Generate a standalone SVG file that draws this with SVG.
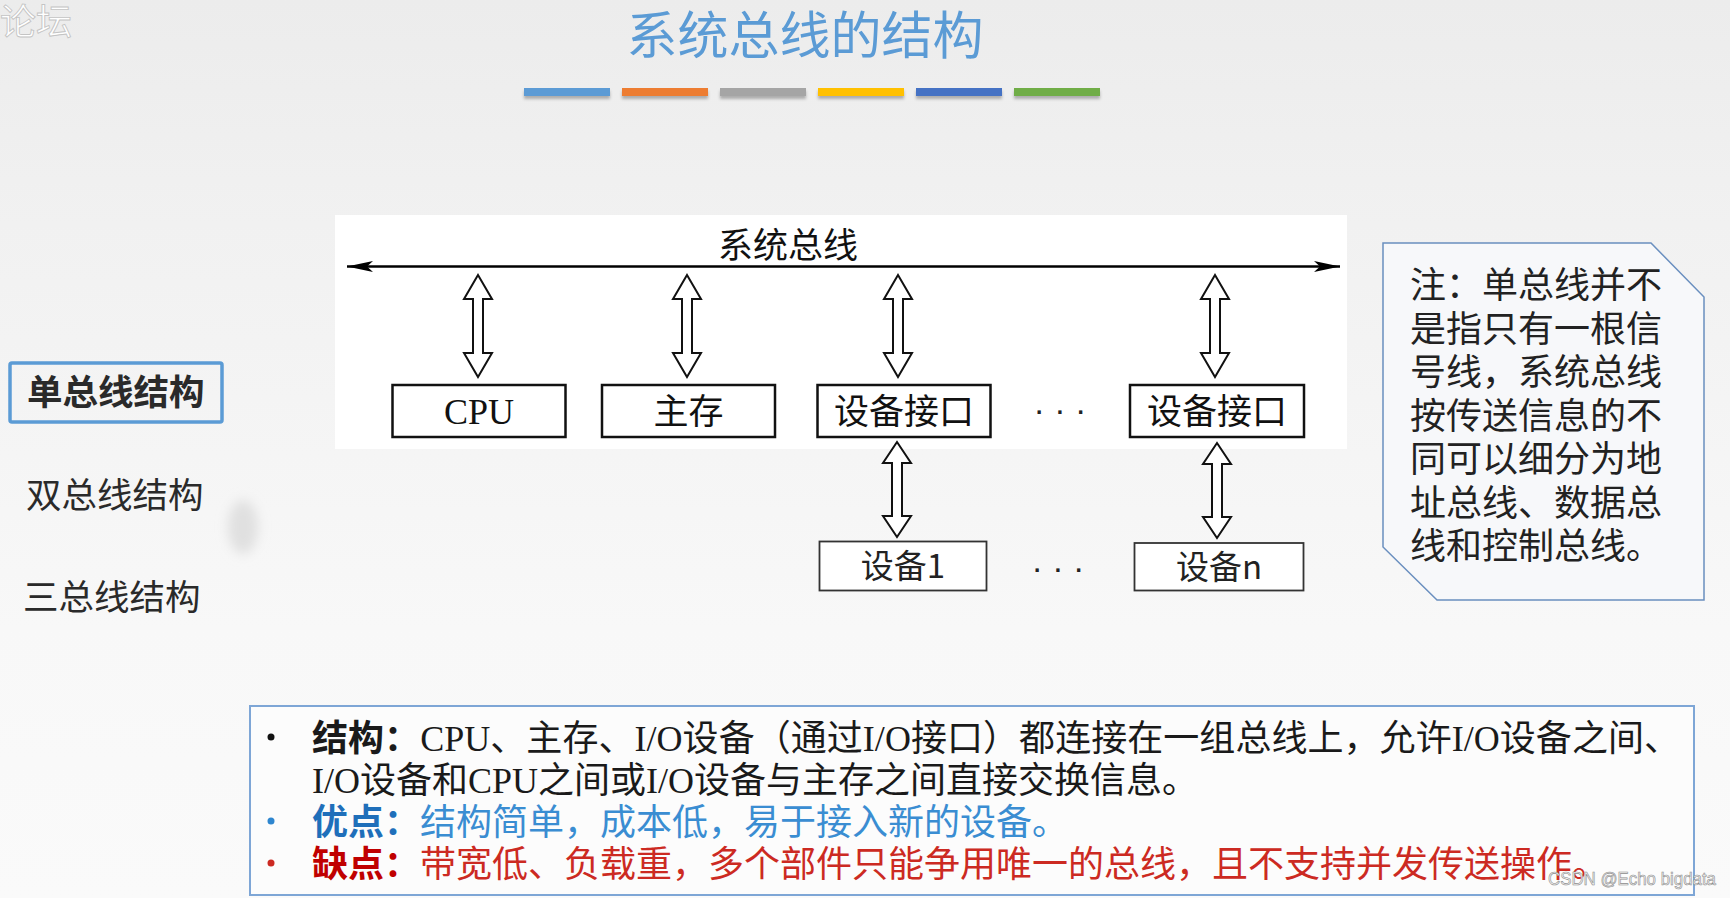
<svg xmlns="http://www.w3.org/2000/svg" width="1730" height="898" viewBox="0 0 1730 898">
<defs>
<linearGradient id="bg" x1="0" y1="0" x2="0" y2="1">
<stop offset="0" stop-color="#ececec"/>
<stop offset="0.25" stop-color="#f1f1f1"/>
<stop offset="0.7" stop-color="#f8f8f8"/>
<stop offset="1" stop-color="#fafafa"/>
</linearGradient>
<filter id="sh" x="-10%" y="-50%" width="120%" height="250%">
<feDropShadow dx="0" dy="3" stdDeviation="1.5" flood-color="#000" flood-opacity="0.28"/>
</filter>
<filter id="blur" x="-100%" y="-100%" width="300%" height="300%">
<feGaussianBlur stdDeviation="6"/>
</filter>
<marker id="ah" markerUnits="userSpaceOnUse" markerWidth="28" markerHeight="12" refX="26" refY="6" orient="auto-start-reverse">
<path d="M0,0.5 L26,6 L0,11.5 L6,6 Z" fill="#000"/>
</marker>
<style>
.cjk{font-family:"Noto Sans CJK SC","Noto Sans",sans-serif;}
.lat{font-family:"Liberation Serif","Times New Roman",serif;}
.box{fill:#fff;stroke:#111;stroke-width:2.5;}
.box2{fill:#fff;stroke:#333;stroke-width:1.8;}
.lbl{font-family:"Noto Sans CJK SC",sans-serif;font-size:35px;fill:#111;text-anchor:middle;}
.lbl2{font-family:"Noto Sans CJK SC",sans-serif;font-size:33px;fill:#222;text-anchor:middle;}
.harrow{fill:#fff;stroke:#111;stroke-width:2;stroke-linejoin:miter;}
.dots{font-family:"Liberation Sans",sans-serif;font-size:34px;fill:#222;text-anchor:middle;}
.menu{font-family:"Noto Sans CJK SC",sans-serif;font-size:35.5px;fill:#2a2a2a;}
.note{font-family:"Noto Sans CJK SC",sans-serif;font-size:36px;fill:#222;}
.sum{font-family:"Noto Sans CJK SC",sans-serif;font-size:36px;fill:#1a1a1a;}
.b{font-weight:bold;}
</style>
</defs>

<rect x="0" y="0" width="1730" height="898" fill="url(#bg)"/>

<g id="watermark-top">
<text x="0" y="35" class="cjk" font-size="36" fill="#ffffff" stroke="#c4c4c4" stroke-width="0.9">论坛</text>
</g>

<g id="title">
<text x="805" y="54" class="cjk" font-size="51" fill="#5b9bd5" text-anchor="middle">系统总线的结构</text>
</g>

<g id="colorbars" filter="url(#sh)">
<rect x="524" y="88" width="86" height="8" fill="#5b9bd5"/>
<rect x="622" y="88" width="86" height="8" fill="#ed7d31"/>
<rect x="720" y="88" width="86" height="8" fill="#a5a5a5"/>
<rect x="818" y="88" width="86" height="8" fill="#ffc000"/>
<rect x="916" y="88" width="86" height="8" fill="#4472c4"/>
<rect x="1014" y="88" width="86" height="8" fill="#70ad47"/>
</g>

<g id="menu">
<rect x="10" y="363" width="212" height="59" rx="2" fill="none" stroke="#5b9bd5" stroke-width="3.5"/>
<text x="27" y="405" class="menu b" fill="#111">单总线结构</text>
<text x="26" y="508" class="menu">双总线结构</text>
<text x="23" y="610" class="menu">三总线结构</text>
<ellipse cx="243" cy="527" rx="15" ry="27" fill="#e0e0e0" filter="url(#blur)"/>
</g>

<g id="panel">
<rect x="335" y="215" width="1012" height="234" fill="#ffffff"/>
</g>

<g id="bus-label">
<text x="788" y="258" class="cjk" font-size="35" fill="#111" text-anchor="middle">系统总线</text>
</g>

<g id="connectors">
<line x1="347" y1="266.5" x2="1340" y2="266.5" stroke="#000" stroke-width="2.5" marker-start="url(#ah)" marker-end="url(#ah)"/>
<path class="harrow" d="M478,275 L492,299 L483,299 L483,353 L492,353 L478,377 L464,353 L473,353 L473,299 L464,299 Z"/>
<path class="harrow" d="M687,275 L701,299 L692,299 L692,353 L701,353 L687,377 L673,353 L682,353 L682,299 L673,299 Z"/>
<path class="harrow" d="M898,275 L912,299 L903,299 L903,353 L912,353 L898,377 L884,353 L893,353 L893,299 L884,299 Z"/>
<path class="harrow" d="M1215,275 L1229,299 L1220,299 L1220,353 L1229,353 L1215,377 L1201,353 L1210,353 L1210,299 L1201,299 Z"/>
<path class="harrow" d="M897,442 L911,463 L902,463 L902,516 L911,516 L897,537 L883,516 L892,516 L892,463 L883,463 Z"/>
<path class="harrow" d="M1217,443 L1231,464 L1222,464 L1222,517 L1231,517 L1217,538 L1203,517 L1212,517 L1212,464 L1203,464 Z"/>
</g>

<g id="node-cpu">
<rect class="box" x="392.5" y="385" width="173" height="52"/>
<text x="479" y="424" class="lat" font-size="36" fill="#111" text-anchor="middle">CPU</text>
</g>
<g id="node-mem">
<rect class="box" x="602" y="385" width="173" height="52"/>
<text x="688.5" y="424" class="lbl">主存</text>
</g>
<g id="node-if1">
<rect class="box" x="817.5" y="385" width="173" height="52"/>
<text x="904" y="424" class="lbl">设备接口</text>
</g>
<g id="node-if2">
<rect class="box" x="1130" y="385" width="174" height="52"/>
<text x="1217" y="424" class="lbl">设备接口</text>
</g>
<g id="node-dev1">
<rect class="box2" x="819.5" y="541.5" width="167" height="49"/>
<text x="903" y="578" class="lbl2">设备1</text>
</g>
<g id="node-devn">
<rect class="box2" x="1134.5" y="543" width="169" height="47.5"/>
<text x="1219" y="579" class="lbl2">设备n</text>
</g>

<g id="ellipses">
<text x="1060" y="421" class="dots">· · ·</text>
<text x="1058" y="579" class="dots">· · ·</text>
</g>

<g id="note">
<polygon points="1383,243 1651,243 1704,297 1704,600 1437,600 1383,547" fill="#f7f8fa" stroke="#6a8fbf" stroke-width="1.5"/>
<text x="1410" y="298" class="note">注：单总线并不</text>
<text x="1410" y="341.5" class="note">是指只有一根信</text>
<text x="1410" y="385" class="note">号线，系统总线</text>
<text x="1410" y="428.5" class="note">按传送信息的不</text>
<text x="1410" y="472" class="note">同可以细分为地</text>
<text x="1410" y="515.5" class="note">址总线、数据总</text>
<text x="1410" y="559" class="note">线和控制总线。</text>
</g>

<g id="summary">
<rect x="250" y="706" width="1444" height="189" fill="#fcfcfc" stroke="#7ea6d6" stroke-width="2"/>
<circle cx="271" cy="737" r="3.5" fill="#111"/>
<circle cx="271" cy="821" r="3.5" fill="#2e86cf"/>
<circle cx="271" cy="863" r="3.5" fill="#cc2a22"/>
<text x="312" y="751" class="sum" textLength="1368" lengthAdjust="spacing"><tspan class="b">结构：</tspan><tspan class="lat">CPU</tspan>、主存、<tspan class="lat">I/O</tspan>设备（通过<tspan class="lat">I/O</tspan>接口）都连接在一组总线上，允许<tspan class="lat">I/O</tspan>设备之间、</text>
<text x="312" y="793" class="sum"><tspan class="lat">I/O</tspan>设备和<tspan class="lat">CPU</tspan>之间或<tspan class="lat">I/O</tspan>设备与主存之间直接交换信息。</text>
<text x="312" y="835" class="sum"><tspan class="b" fill="#1f6fba">优点：</tspan><tspan fill="#3a8dd2">结构简单，成本低，易于接入新的设备。</tspan></text>
<text x="312" y="877" class="sum"><tspan class="b" fill="#c00000">缺点：</tspan><tspan fill="#cc2a22">带宽低、负载重，多个部件只能争用唯一的总线，且不支持并发传送操作。</tspan></text>
</g>

<g id="watermark-csdn">
<text x="1548" y="885" font-family="Liberation Sans, sans-serif" font-size="18" fill="#f2f2f2" stroke="#8c8c8c" stroke-width="0.6" textLength="168" lengthAdjust="spacingAndGlyphs">CSDN @Echo bigdata</text>
</g>
</svg>
